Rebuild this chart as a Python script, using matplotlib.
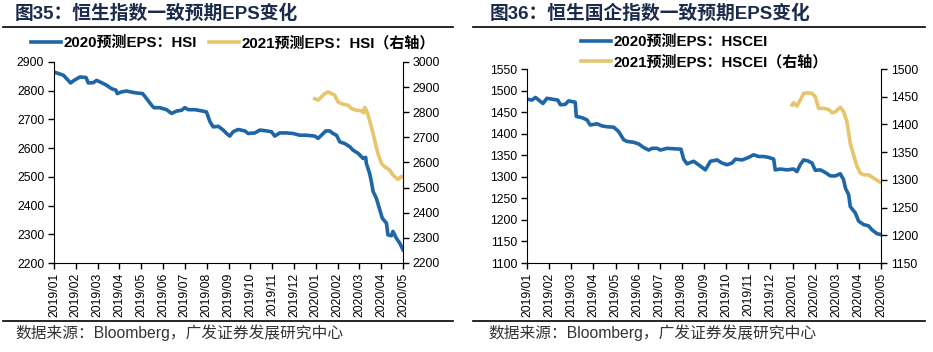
import numpy as np
import matplotlib
matplotlib.use("Agg")
import matplotlib.pyplot as plt
from matplotlib.lines import Line2D

plt.rcParams['font.family'] = ['Liberation Sans', 'Noto Sans CJK SC', 'DejaVu Sans']
plt.rcParams['axes.unicode_minus'] = False

#--------------------------------------
# x positions in months since 2019/01
month_labels = ['2019/01', '2019/02', '2019/03', '2019/04', '2019/05', '2019/06', '2019/07',
                '2019/08', '2019/09', '2019/10', '2019/11', '2019/12', '2020/01', '2020/02',
                '2020/03', '2020/04', '2020/05']

hsi20_x = [0.00, 0.20, 0.43, 0.58, 0.76, 0.92, 1.19, 1.47, 1.57, 1.80, 1.95, 2.18, 2.41, 2.64,
           2.84, 2.90, 3.10, 3.33, 3.56, 3.79, 4.06, 4.24, 4.47, 4.58, 4.85, 5.16, 5.39, 5.62,
           5.85, 6.00, 6.15, 6.46, 6.76, 6.99, 7.15, 7.30, 7.53, 7.76, 7.91, 8.06, 8.21, 8.44,
           8.75, 8.90, 9.21, 9.44, 9.74, 9.97, 10.12, 10.35, 10.66, 10.96, 11.27, 11.57, 11.95,
           12.11, 12.26, 12.46, 12.64, 12.79, 12.95, 13.10, 13.33, 13.56, 13.71, 13.94, 14.17,
           14.29, 14.32, 14.47, 14.55, 14.63, 14.78, 14.93, 15.05, 15.24, 15.31, 15.47, 15.54,
           15.69, 15.85, 16.00]
hsi20_y = [2865, 2860, 2854, 2842, 2827, 2836, 2848, 2846, 2827, 2828, 2836, 2828, 2819, 2807,
           2802, 2790, 2796, 2799, 2795, 2792, 2790, 2773, 2750, 2741, 2741, 2734, 2721, 2729,
           2732, 2741, 2734, 2734, 2730, 2726, 2692, 2674, 2676, 2663, 2651, 2642, 2657, 2665,
           2660, 2651, 2653, 2663, 2660, 2657, 2642, 2653, 2653, 2651, 2645, 2645, 2642,
           2634, 2645, 2660, 2660, 2651, 2645, 2622, 2616, 2605, 2593, 2582, 2564,
           2568, 2547, 2512, 2483, 2449, 2425, 2387, 2356, 2339, 2298, 2295, 2310,
           2287, 2269, 2246]

hsi21_x = [11.95, 12.11, 12.26, 12.41, 12.56, 12.72, 12.87, 13.02, 13.25, 13.48, 13.63, 13.86,
           14.09, 14.20, 14.24, 14.32, 14.40, 14.55, 14.70, 14.85, 15.01, 15.16, 15.39, 15.54,
           15.77, 15.92, 16.00]
hsi21_y = [2854, 2848, 2861, 2874, 2881, 2874, 2868, 2841, 2832, 2828, 2815, 2808,
           2806, 2798, 2819, 2808, 2788, 2742, 2689, 2636, 2597, 2583, 2570, 2550,
           2533, 2544, 2544]

hscei20_x = [0.00, 0.23, 0.38, 0.53, 0.72, 0.90, 1.13, 1.39, 1.51, 1.73, 1.88, 2.18, 2.23, 2.49,
             2.71, 2.86, 3.16, 3.39, 3.62, 3.92, 4.14, 4.37, 4.52, 4.82, 5.05, 5.27, 5.50, 5.65,
             5.88, 6.03, 6.33, 6.63, 6.96, 7.08, 7.23, 7.53, 7.83, 8.06, 8.29, 8.59, 8.81, 9.04,
             9.27, 9.42, 9.72, 10.02, 10.24, 10.47, 10.70, 10.92, 11.15, 11.22, 11.45, 11.75,
             12.05, 12.20, 12.35, 12.50, 12.69, 12.88, 13.03, 13.26, 13.48, 13.71, 13.94, 14.16,
             14.31, 14.39, 14.54, 14.61, 14.84, 14.99, 15.22, 15.44, 15.59, 15.82, 16.00]
hscei20_y = [1480, 1478, 1484, 1478, 1470, 1482, 1480, 1478, 1467, 1468, 1476, 1473, 1440, 1437,
             1432, 1420, 1423, 1418, 1416, 1415, 1405, 1386, 1382, 1380, 1376, 1368, 1362, 1366,
             1366, 1362, 1366, 1365, 1364, 1341, 1330, 1336, 1325, 1316, 1336, 1339, 1332, 1328,
             1332, 1341, 1339, 1345, 1351, 1347, 1347, 1345, 1341, 1316, 1318, 1316,
             1318, 1312, 1328, 1339, 1337, 1332, 1315, 1316, 1310, 1302, 1302, 1307,
             1293, 1274, 1258, 1231, 1216, 1197, 1189, 1186, 1177, 1168, 1166]

hscei21_x = [11.98, 12.05, 12.20, 12.35, 12.50, 12.66, 12.88, 13.03, 13.18, 13.41, 13.63, 13.79,
             13.94, 14.16, 14.31, 14.46, 14.61, 14.76, 14.92, 15.07, 15.22, 15.44, 15.67, 16.00]
hscei21_y = [1435, 1439, 1433, 1444, 1456, 1457, 1456, 1450, 1429, 1429, 1427, 1421,
             1423, 1431, 1423, 1405, 1366, 1345, 1324, 1312, 1309, 1309, 1303, 1295]

#--------------------------------------
W, H = 933, 352
fig = plt.figure(figsize=(W/100, H/100), dpi=100)

blue   = '#1F66A6'
yellow = '#E6C56C'
navy   = '#1B2B4B'
tick_fs = 8.8
lw = 2.6

def px_axes(x0, x1, y0, y1):
    return fig.add_axes([x0/W, 1-y1/H, (x1-x0)/W, (y1-y0)/H])

def style(ax, ax2):
    for a in (ax, ax2):
        a.spines['top'].set_visible(False)
        a.tick_params(labelsize=tick_fs, length=4, width=1, direction='out', pad=3)
    ax.spines['right'].set_visible(False)
    ax2.spines['left'].set_visible(False)
    ax2.spines['bottom'].set_visible(False)
    ax.set_xlim(0, 16)
    ax.set_xticks(np.arange(len(month_labels)))
    ax.set_xticklabels(month_labels, rotation=90)

def panel(x0, x1, y0, y1, s1x, s1y, s2x, s2y, lim1, step1, lim2, step2):
    ax = px_axes(x0, x1, y0, y1)
    ax2 = ax.twinx()
    ax.plot(s1x, s1y, color=blue, lw=lw, solid_joinstyle='round')
    ax2.plot(s2x, s2y, color=yellow, lw=lw, solid_joinstyle='round')
    ax.set_ylim(*lim1)
    ax.set_yticks(np.arange(lim1[0], lim1[1]+1, step1))
    ax2.set_ylim(*lim2)
    ax2.set_yticks(np.arange(lim2[0], lim2[1]+1, step2))
    style(ax, ax2)
    return ax, ax2

ax_l, ax_l2 = panel(54, 403, 62, 263, hsi20_x, hsi20_y, hsi21_x, hsi21_y,
                    (2200, 2900), 100, (2200, 3000), 100)
ax_r, ax_r2 = panel(527, 881, 69, 263, hscei20_x, hscei20_y, hscei21_x, hscei21_y,
                    (1100, 1550), 50, (1150, 1500), 50)

# titles, rules, source
title_font = dict(fontsize=13.5, fontweight='bold', color=navy,
                  family=['Liberation Sans', 'Noto Sans CJK SC'])
fig.text(15/W, 1-14/H, '图35：恒生指数一致预期EPS变化', va='center', ha='left', **title_font)
fig.text(490/W, 1-14/H, '图36：恒生国企指数一致预期EPS变化', va='center', ha='left', **title_font)

for (a, b) in [(3, 453), (473, 925)]:
    fig.add_artist(Line2D([a/W, b/W], [1-27/H, 1-27/H], color='black', lw=1.2))
    fig.add_artist(Line2D([a/W, b/W], [1-321/H, 1-321/H], color='black', lw=1.2))

src_font = dict(fontsize=11.3, color='#333333', family=['Liberation Sans', 'Noto Sans CJK SC'])
fig.text(15/W, 1-333/H, '数据来源：Bloomberg，广发证券发展研究中心', va='center', ha='left', **src_font)
fig.text(488/W, 1-333/H, '数据来源：Bloomberg，广发证券发展研究中心', va='center', ha='left', **src_font)

# legends
leg_props = dict(size=10.8, weight='bold', family=['Liberation Sans', 'Noto Sans CJK SC'])
h1 = Line2D([], [], color=blue, lw=lw)
h2 = Line2D([], [], color=yellow, lw=lw)
fig.legend([h1, h2], ['2020预测EPS：HSI', '2021预测EPS：HSI（右轴）'],
           loc='center', bbox_to_anchor=(233/W, 1-43/H), ncol=2, frameon=False,
           prop=leg_props, handlelength=2.0, handletextpad=0.15, columnspacing=0.8,
           borderaxespad=0, borderpad=0)
fig.legend([h1, h2], ['2020预测EPS：HSCEI', '2021预测EPS：HSCEI（右轴）'],
           loc='upper left', bbox_to_anchor=(581/W, 1-35/H), ncol=1, frameon=False,
           prop=leg_props, handlelength=2.0, handletextpad=0.15, labelspacing=0.35,
           borderaxespad=0, borderpad=0)

fig.savefig('out.png', dpi=100)
